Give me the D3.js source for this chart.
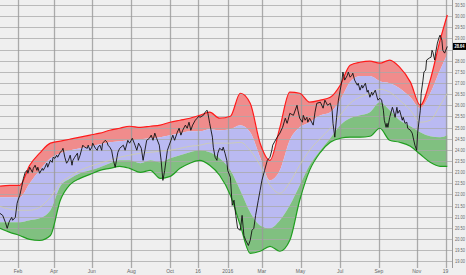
<!DOCTYPE html>
<html>
<head>
<meta charset="utf-8">
<script src="https://cdn.jsdelivr.net/npm/d3@7"></script>
<style>
  body { margin: 0; background: #efefef; }
  svg { display: block; }
</style>
</head>
<body>
<div id="chart"></div>
<script>
const width = 466;
const height = 275;

// trading sessions since start of chart
const tickDays = [20, 60, 102, 146, 189, 220, 253, 291, 334, 378, 421, 463, 495];
const tickLabels = ["Feb", "Apr", "Jun", "Aug", "Oct", "16", "2016", "Mar", "May", "Jul", "Sep", "Nov", "19"];

const yTicks = d3.range(19, 30.51, 0.5);
const lastPrice = 28.64;

// band samples
const bandDays = [0, 11, 22, 33, 44, 56, 67, 78, 89, 100, 111, 122, 133, 144, 156, 167, 178, 189, 200, 211,
  222, 233, 244, 256, 267, 278, 289, 300, 311, 322, 333, 344, 356, 367, 378, 389, 400, 411, 422, 433,
  444, 456, 467, 478, 489, 497];
const redTop = [22.37, 22.41, 22.41, 23.31, 23.85, 24.30, 24.39, 24.48, 24.57, 24.66, 24.75, 24.88, 24.97, 25.06, 25.01, 25.06, 25.11, 25.24, 25.33, 25.42,
  25.55, 25.69, 25.42, 25.51, 26.54, 26.09, 24.30, 23.53, 25.01, 26.59, 26.54, 26.14, 26.23, 26.36, 26.90, 27.80, 27.93, 27.98, 27.89, 28.03,
  27.71, 27.04, 26.00, 27.13, 28.92, 30.05];
const redLow = [21.87, 21.87, 21.87, 22.50, 23.08, 23.62, 23.85, 23.98, 24.07, 24.16, 24.25, 24.34, 24.39, 24.43, 24.48, 24.52, 24.57, 24.66, 24.75, 24.84,
  24.84, 24.93, 24.88, 24.93, 25.11, 24.79, 23.67, 22.63, 23.08, 24.43, 25.01, 25.24, 25.55, 25.69, 26.23, 27.04, 27.31, 27.31, 27.08, 26.99,
  26.77, 26.36, 25.87, 26.54, 27.58, 28.29];
const middle = [21.47, 21.33, 21.29, 21.29, 21.42, 21.87, 22.50, 22.81, 23.08, 23.26, 23.40, 23.53, 23.67, 23.76, 23.85, 23.89, 23.94, 23.98, 24.07, 24.16,
  24.21, 24.30, 24.30, 24.30, 24.34, 23.98, 23.31, 22.41, 22.05, 22.54, 23.31, 23.98, 24.52, 24.97, 25.55, 26.09, 26.36, 26.54, 26.72, 26.59,
  26.23, 25.78, 25.24, 25.33, 26.00, 26.54];
const greenTop = [20.75, 20.75, 20.75, 20.84, 20.93, 21.29, 22.37, 22.72, 22.95, 23.08, 23.22, 23.40, 23.53, 23.53, 23.40, 23.53, 23.44, 23.62, 23.76, 23.89,
  23.98, 23.89, 23.62, 23.08, 22.18, 21.20, 20.61, 20.48, 20.84, 21.51, 22.41, 23.31, 23.98, 24.52, 25.11, 25.42, 25.55, 25.69, 26.14, 25.78,
  25.33, 25.06, 24.79, 24.61, 24.57, 24.66];
const greenLow = [20.48, 20.30, 20.16, 19.98, 19.94, 20.16, 21.74, 22.45, 22.72, 22.90, 23.08, 23.17, 23.26, 23.17, 22.99, 23.08, 22.72, 22.81, 23.17, 23.40,
  23.53, 23.31, 22.86, 21.96, 20.61, 19.36, 19.45, 19.67, 19.45, 19.94, 21.74, 23.08, 23.89, 24.34, 24.52, 24.57, 24.57, 24.61, 24.97, 24.43,
  24.34, 24.16, 23.80, 23.44, 23.26, 23.26];

// daily close [session, price]
const price = [
  [0, 21.15], [3, 21.06], [6, 20.75], [8, 20.48], [10, 20.75], [11, 20.84], [13, 20.97], [14, 20.84], [17, 20.97], [19, 21.60],
  [20, 21.74], [22, 21.96], [24, 22.32], [26, 22.72], [28, 22.99], [30, 23.08], [31, 22.95], [33, 23.22], [36, 22.99], [37, 23.17],
  [39, 23.31], [41, 23.08], [42, 23.22], [44, 22.95], [47, 23.17], [48, 23.08], [50, 23.22], [52, 23.40], [53, 23.22], [56, 23.53],
  [58, 23.44], [59, 23.67], [61, 23.62], [63, 23.76], [64, 23.67], [67, 23.89], [69, 23.98], [70, 24.07], [72, 23.67], [74, 23.40],
  [76, 23.53], [78, 23.76], [80, 23.31], [81, 23.53], [83, 23.67], [86, 23.85], [87, 23.53], [89, 23.76], [91, 24.07], [92, 24.21],
  [94, 24.12], [97, 24.07], [98, 24.21], [100, 23.98], [102, 24.12], [103, 24.30], [106, 24.07], [108, 23.98], [109, 24.12], [111, 24.21],
  [113, 23.98], [114, 24.30], [117, 24.43], [119, 24.34], [120, 24.21], [122, 24.12], [124, 23.98], [126, 23.53], [128, 23.22], [130, 23.67],
  [131, 23.89], [133, 24.07], [137, 24.21], [139, 23.98], [142, 24.43], [144, 24.30], [147, 24.52], [150, 24.21], [152, 23.98], [154, 24.30],
  [157, 24.07], [159, 23.53], [161, 23.98], [163, 24.43], [166, 24.52], [168, 24.66], [170, 24.43], [172, 24.75], [174, 24.52], [177, 24.21],
  [179, 23.53], [181, 22.63], [183, 23.08], [186, 23.98], [188, 24.21], [190, 24.43], [192, 24.66], [194, 24.43], [197, 24.79], [199, 24.97],
  [201, 24.66], [203, 24.88], [206, 25.11], [208, 24.97], [210, 25.24], [212, 24.88], [214, 25.11], [217, 25.33], [219, 25.42], [221, 25.51],
  [222, 25.46], [226, 25.55], [228, 25.69], [230, 25.78], [231, 25.64], [233, 25.19], [236, 24.57], [237, 24.12], [239, 23.67], [241, 23.53],
  [242, 23.85], [244, 24.07], [247, 23.98], [248, 24.12], [250, 23.85], [252, 23.53], [253, 23.08], [256, 22.77], [258, 21.51], [260, 21.74],
  [262, 21.06], [264, 20.48], [267, 20.39], [269, 21.06], [271, 20.16], [273, 19.94], [276, 19.71], [278, 19.94], [280, 20.39], [282, 20.48],
  [284, 21.06], [287, 21.74], [289, 22.18], [291, 22.63], [294, 23.08], [297, 23.53], [300, 23.67], [302, 23.98], [303, 24.21], [308, 24.57],
  [311, 24.75], [314, 25.01], [317, 25.42], [319, 25.19], [320, 25.33], [322, 25.64], [326, 25.55], [330, 26.00], [331, 25.78], [333, 25.42],
  [336, 25.24], [337, 25.55], [339, 25.33], [341, 25.46], [342, 25.24], [344, 25.42], [348, 25.11], [350, 25.69], [352, 26.09], [356, 26.14],
  [359, 25.87], [361, 26.23], [364, 26.00], [367, 26.09], [369, 25.78], [370, 25.19], [372, 24.57], [374, 25.46], [376, 26.23], [378, 26.68],
  [380, 27.13], [381, 27.49], [383, 27.13], [386, 27.35], [387, 27.49], [389, 27.26], [391, 27.35], [392, 27.44], [394, 27.13], [397, 26.90],
  [398, 26.99], [400, 26.68], [402, 26.90], [403, 26.77], [406, 26.99], [408, 26.59], [409, 26.68], [411, 26.36], [413, 26.59], [414, 26.45],
  [417, 26.68], [419, 26.36], [420, 26.23], [422, 26.32], [424, 26.23], [426, 25.78], [427, 25.33], [429, 25.01], [430, 25.19], [431, 25.01],
  [433, 25.46], [436, 25.91], [437, 25.78], [439, 25.46], [441, 25.91], [442, 25.64], [444, 25.78], [447, 25.33], [448, 25.46], [450, 25.19],
  [452, 25.24], [453, 24.97], [456, 24.88], [458, 24.75], [459, 24.57], [461, 24.21], [463, 23.98], [464, 24.75], [467, 25.78], [468, 26.54],
  [470, 27.13], [471, 27.49], [473, 27.58], [474, 28.03], [477, 28.12], [479, 28.16], [480, 28.47], [481, 28.38], [483, 28.03], [484, 28.34],
  [486, 28.79], [488, 29.06], [489, 29.15], [491, 28.92], [492, 28.47], [494, 28.34], [497, 28.64]
];

const plotRight = 452.5;
const plotBottom = 268;

const x = d3.scaleLinear().domain([0, 500]).range([0, 450]);
const y = d3.scaleLinear().domain([19, 30.5]).range([261.3, 5]);

const svg = d3.select("#chart").append("svg")
  .attr("width", width)
  .attr("height", height)
  .style("font-family", "Liberation Sans, Arial, sans-serif");

svg.append("rect")
  .attr("width", width)
  .attr("height", height)
  .attr("fill", "#efefef");

const bands = bandDays.map((d, i) => ({
  d: d, rt: redTop[i], rl: redLow[i], m: middle[i], gt: greenTop[i], gl: greenLow[i]
}));

const curve = d3.curveMonotoneX;

function band(top, low) {
  return d3.area()
    .curve(curve)
    .x(b => x(b.d))
    .y0(b => y(b[low]))
    .y1(b => y(b[top]));
}
function line(key) {
  return d3.line()
    .curve(curve)
    .x(b => x(b.d))
    .y(b => y(b[key]));
}

svg.append("path").attr("d", band("rt", "rl")(bands)).attr("fill", "#f08c8c");
svg.append("path").attr("d", band("rl", "gt")(bands)).attr("fill", "#babaf2");
svg.append("path").attr("d", band("gt", "gl")(bands)).attr("fill", "#80c080");

// grid
svg.append("g")
  .selectAll("line")
  .data(yTicks)
  .join("line")
  .attr("x1", 0)
  .attr("x2", plotRight)
  .attr("y1", d => Math.round(y(d)) + 0.5)
  .attr("y2", d => Math.round(y(d)) + 0.5)
  .attr("stroke", "#a8a8a8")
  .attr("stroke-opacity", 0.75)
  .attr("stroke-width", 1);

svg.append("g")
  .selectAll("line")
  .data(tickDays)
  .join("line")
  .attr("x1", d => Math.round(x(d)) + 0.5)
  .attr("x2", d => Math.round(x(d)) + 0.5)
  .attr("y1", 0)
  .attr("y2", plotBottom)
  .attr("stroke", "#999")
  .attr("stroke-opacity", 0.8)
  .attr("stroke-width", 1.3);

svg.append("line")
  .attr("x1", plotRight).attr("x2", plotRight)
  .attr("y1", 0).attr("y2", plotBottom)
  .attr("stroke", "#999").attr("stroke-width", 1);

svg.append("path").attr("d", line("m")(bands))
  .attr("fill", "none").attr("stroke", "#cfcfa8").attr("stroke-width", 0.8);
svg.append("path").attr("d", line("rt")(bands))
  .attr("fill", "none").attr("stroke", "#ff1a1a").attr("stroke-width", 1.2);
svg.append("path").attr("d", line("gl")(bands))
  .attr("fill", "none").attr("stroke", "#1f9e1f").attr("stroke-width", 1.2);

svg.append("path")
  .attr("d", d3.line().x(p => x(p[0])).y(p => y(p[1]))(price))
  .attr("fill", "none")
  .attr("stroke", "#111")
  .attr("stroke-width", 0.9);

// axes labels (the 28.50 label sits under the last price box)
svg.append("g")
  .selectAll("text")
  .data(yTicks.filter(d => Math.abs(d - lastPrice) > 0.2))
  .join("text")
  .attr("transform", d => `translate(455,${y(d) + 2}) scale(0.72,1)`)
  .attr("font-size", 5.5)
  .attr("fill", "#666")
  .text(d => d.toFixed(2));

svg.append("g")
  .selectAll("text")
  .data(tickDays)
  .join("text")
  .attr("x", d => x(d))
  .attr("y", 273)
  .attr("text-anchor", "middle")
  .attr("font-size", 5)
  .attr("fill", "#666")
  .text((d, i) => tickLabels[i]);

svg.append("rect")
  .attr("x", 453)
  .attr("y", y(lastPrice) - 3.5)
  .attr("width", 13)
  .attr("height", 7)
  .attr("fill", "#000");
svg.append("text")
  .attr("transform", `translate(454.5,${y(lastPrice) + 2}) scale(0.72,1)`)
  .attr("font-size", 5.5)
  .attr("font-weight", "bold")
  .attr("fill", "#fff")
  .text(lastPrice.toFixed(2));
</script>
</body>
</html>
